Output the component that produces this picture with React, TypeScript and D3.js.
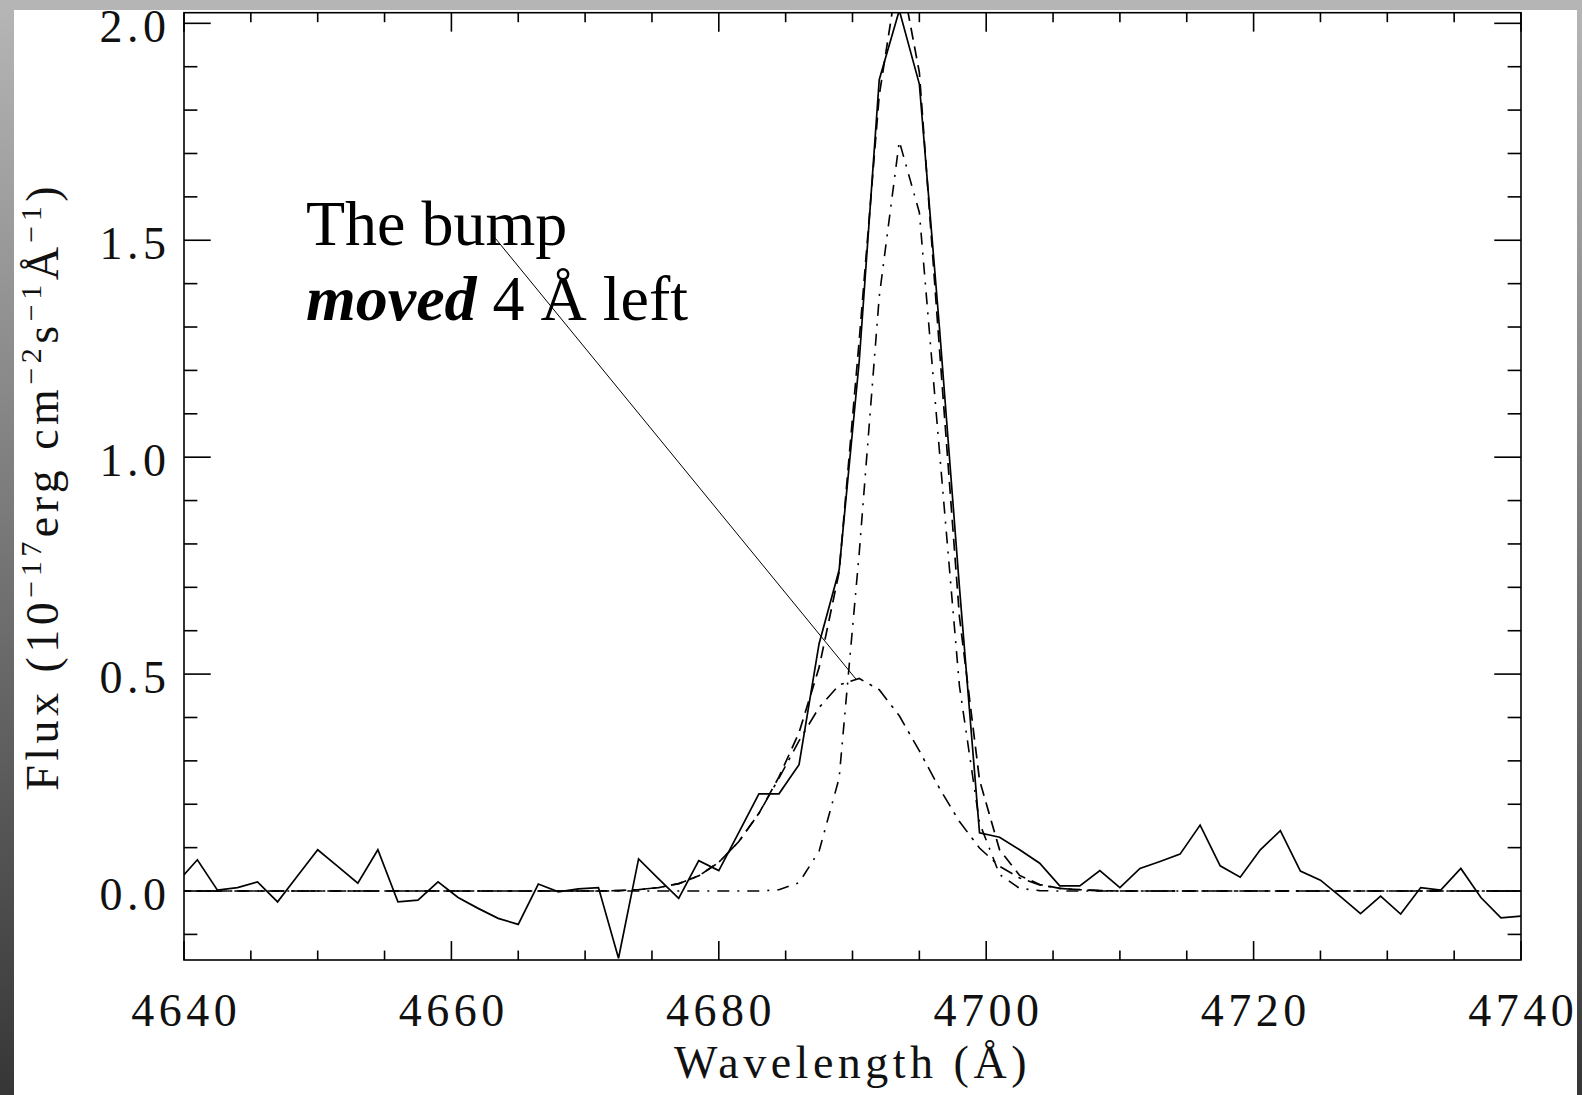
import React from "react";
import * as d3 from "d3";

const WAVELENGTHS = [
  4639.5, 4641.0, 4642.5, 4644.0, 4645.5, 4647.0, 4648.5, 4650.0, 4651.5, 4653.0,
  4654.5, 4656.0, 4657.5, 4659.0, 4660.5, 4662.0, 4663.5, 4665.0, 4666.5, 4668.0,
  4669.5, 4671.0, 4672.5, 4674.0, 4675.5, 4677.0, 4678.5, 4680.0, 4681.5, 4683.0,
  4684.5, 4686.0, 4687.5, 4689.0, 4690.5, 4692.0, 4693.5, 4695.0, 4696.5, 4698.0,
  4699.5, 4701.0, 4702.5, 4704.0, 4705.5, 4707.0, 4708.5, 4710.0, 4711.5, 4713.0,
  4714.5, 4716.0, 4717.5, 4719.0, 4720.5, 4722.0, 4723.5, 4725.0, 4726.5, 4728.0,
  4729.5, 4731.0, 4732.5, 4734.0, 4735.5, 4737.0, 4738.5, 4740.0,
];

const OBSERVED = [
  0.020, 0.072, 0.002, 0.008, 0.021, -0.025, 0.035, 0.095, 0.057, 0.018,
  0.095, -0.025, -0.021, 0.021, -0.015, -0.040, -0.063, -0.077, 0.016, -0.002,
  0.005, 0.008, -0.155, 0.074, 0.028, -0.017, 0.070, 0.047, 0.135, 0.224,
  0.224, 0.291, 0.570, 0.740, 1.220, 1.870, 2.030, 1.860, 1.300, 0.700,
  0.134, 0.124, 0.095, 0.064, 0.012, 0.012, 0.047, 0.008, 0.052, 0.068,
  0.085, 0.152, 0.058, 0.032, 0.095, 0.139, 0.046, 0.025, -0.013, -0.052,
  -0.012, -0.053, 0.008, 0.002, 0.052, -0.015, -0.062, -0.058,
];

const NARROW = [
  0, 0, 0, 0, 0, 0, 0, 0, 0, 0,
  0, 0, 0, 0, 0, 0, 0, 0, 0, 0,
  0, 0, 0, 0, 0, 0, 0, 0, 0, 0.000,
  0.003, 0.019, 0.092, 0.260, 0.778, 1.370, 1.728, 1.564, 1.015, 0.472,
  0.157, 0.038, 0.006, 0.001, 0, 0, 0, 0, 0, 0,
  0, 0, 0, 0, 0, 0, 0, 0, 0, 0,
  0, 0, 0, 0, 0, 0, 0, 0,
];

const BROAD = [
  0, 0, 0, 0, 0, 0, 0, 0, 0, 0,
  0, 0, 0, 0, 0, 0, 0, 0, 0, 0,
  0.000, 0.000, 0.001, 0.003, 0.008, 0.017, 0.035, 0.066, 0.114, 0.179,
  0.260, 0.346, 0.423, 0.475, 0.490, 0.464, 0.404, 0.323, 0.237, 0.160,
  0.099, 0.057, 0.030, 0.014, 0.006, 0.003, 0.001, 0.000, 0, 0,
  0, 0, 0, 0, 0, 0, 0, 0, 0, 0,
  0, 0, 0, 0, 0, 0, 0, 0,
];

const TOTAL = [
  0, 0, 0, 0, 0, 0, 0, 0, 0, 0,
  0, 0, 0, 0, 0, 0, 0, 0, 0, 0,
  0.000, 0.000, 0.001, 0.003, 0.008, 0.017, 0.035, 0.066, 0.114, 0.179,
  0.263, 0.365, 0.515, 0.735, 1.268, 1.834, 2.132, 1.887, 1.252, 0.632,
  0.256, 0.095, 0.036, 0.015, 0.006, 0.003, 0.001, 0.000, 0, 0,
  0, 0, 0, 0, 0, 0, 0, 0, 0, 0,
  0, 0, 0, 0, 0, 0, 0, 0,
];

const X_MAJOR_TICKS = [4640, 4660, 4680, 4700, 4720, 4740];
const X_MINOR_TICKS = [
  4645, 4650, 4655, 4665, 4670, 4675, 4685, 4690, 4695, 4705, 4710, 4715, 4725, 4730, 4735,
];
const Y_MAJOR_TICKS = [0.0, 0.5, 1.0, 1.5, 2.0];
const Y_MINOR_TICKS = [-0.1, 0.1, 0.2, 0.3, 0.4, 0.6, 0.7, 0.8, 0.9, 1.1, 1.2, 1.3, 1.4, 1.6, 1.7, 1.8, 1.9];

const ANNOTATION_POINT = { wl: 4690.3, flux: 0.487 };

const W = 1582;
const H = 1095;
const LEFT = 184;
const RIGHT = 1521;
const TOP = 12.7;
const BOTTOM = 960;

export default function App() {
  const x = d3.scaleLinear().domain([4640, 4740]).range([LEFT, RIGHT]);
  const y = d3.scaleLinear().domain([-0.159, 2.0245]).range([BOTTOM, TOP]);

  const mk = (vals: number[]) =>
    d3
      .line<number>()
      .x((_, i) => x(WAVELENGTHS[i]))
      .y((v) => y(v))(vals) || "";

  const plotH = BOTTOM - TOP;
  const plotW = RIGHT - LEFT;
  const xMaj = plotH * 0.02;
  const xMin = xMaj / 2;
  const yMaj = plotW * 0.02;
  const yMin = yMaj / 2;

  const font = "'Liberation Serif', 'Times New Roman', serif";
  const tickFs = 46;
  const ls = 4.5;

  return (
    <svg
      width={W}
      height={H}
      style={{ position: "absolute", left: 0, top: 0 }}
      xmlns="http://www.w3.org/2000/svg"
    >
      <defs>
        <linearGradient id="bg" x1="0" y1="0" x2="0" y2="1">
          <stop offset="0" stopColor="#b6b6b6" />
          <stop offset="1" stopColor="#363636" />
        </linearGradient>
        <clipPath id="plotclip">
          <rect x={LEFT} y={TOP} width={plotW} height={plotH} />
        </clipPath>
      </defs>
      <rect x={0} y={0} width={W} height={H} fill="url(#bg)" />
      <rect x={14} y={10} width={1563} height={H - 10} fill="#ffffff" />

      {/* data */}
      <g clipPath="url(#plotclip)" fill="none" stroke="#000">
        <path d={mk(BROAD)} strokeWidth={1.6} strokeDasharray="14,7,3,7" />
        <path d={mk(NARROW)} strokeWidth={1.6} strokeDasharray="12,8,2,8" />
        <path d={mk(TOTAL)} strokeWidth={1.7} strokeDasharray="12,7" />
        <path d={mk(OBSERVED)} strokeWidth={1.7} />
      </g>

      {/* frame */}
      <rect x={LEFT} y={TOP} width={plotW} height={plotH} fill="none" stroke="#000" strokeWidth={1.6} />

      {/* ticks */}
      <g stroke="#000" strokeWidth={1.6}>
        {X_MAJOR_TICKS.map((t) => (
          <g key={"xM" + t}>
            <line x1={x(t)} x2={x(t)} y1={BOTTOM} y2={BOTTOM - xMaj} />
            <line x1={x(t)} x2={x(t)} y1={TOP} y2={TOP + xMaj} />
          </g>
        ))}
        {X_MINOR_TICKS.map((t) => (
          <g key={"xm" + t}>
            <line x1={x(t)} x2={x(t)} y1={BOTTOM} y2={BOTTOM - xMin} />
            <line x1={x(t)} x2={x(t)} y1={TOP} y2={TOP + xMin} />
          </g>
        ))}
        {Y_MAJOR_TICKS.map((t) => (
          <g key={"yM" + t}>
            <line x1={LEFT} x2={LEFT + yMaj} y1={y(t)} y2={y(t)} />
            <line x1={RIGHT} x2={RIGHT - yMaj} y1={y(t)} y2={y(t)} />
          </g>
        ))}
        {Y_MINOR_TICKS.map((t) => (
          <g key={"ym" + t}>
            <line x1={LEFT} x2={LEFT + yMin} y1={y(t)} y2={y(t)} />
            <line x1={RIGHT} x2={RIGHT - yMin} y1={y(t)} y2={y(t)} />
          </g>
        ))}
      </g>

      {/* tick labels */}
      <g fontFamily={font} fontSize={tickFs} fill="#111" letterSpacing={ls}>
        {X_MAJOR_TICKS.map((t) => (
          <text key={"xl" + t} x={x(t) + ls / 2} y={1026} textAnchor="middle">
            {String(t)}
          </text>
        ))}
        {Y_MAJOR_TICKS.map((t) => (
          <text key={"yl" + t} x={166 + ls} y={y(t) + 18.5} textAnchor="end">
            {d3.format(".1f")(t)}
          </text>
        ))}
      </g>

      {/* axis titles */}
      <text
        x={(LEFT + RIGHT) / 2}
        y={1078}
        textAnchor="middle"
        fontFamily={font}
        fontSize={tickFs}
        letterSpacing={ls}
        fill="#111"
      >
        Wavelength (Å)
      </text>
      <text
        transform={`translate(58,${(TOP + BOTTOM) / 2}) rotate(-90)`}
        textAnchor="middle"
        fontFamily={font}
        fontSize={tickFs}
        letterSpacing={ls}
        fill="#111"
      >
        <tspan>Flux (10</tspan>
        <tspan dy={-17} fontSize={30}>−17</tspan>
        <tspan dy={17}>erg cm</tspan>
        <tspan dy={-17} fontSize={30}>−2</tspan>
        <tspan dy={17}>s</tspan>
        <tspan dy={-17} fontSize={30}>−1</tspan>
        <tspan dy={17}>Å</tspan>
        <tspan dy={-17} fontSize={30}>−1</tspan>
        <tspan dy={17}>)</tspan>
      </text>

      {/* annotation */}
      <line
        x1={491}
        y1={233}
        x2={x(ANNOTATION_POINT.wl)}
        y2={y(ANNOTATION_POINT.flux)}
        stroke="#000"
        strokeWidth={1}
      />
      <text x={306} y={245} fontFamily={font} fontSize={64} fill="#000">
        The bump
      </text>
      <text x={306} y={320} fontFamily={font} fontSize={64} fill="#000">
        <tspan fontWeight="bold" fontStyle="italic">moved</tspan>
        <tspan> 4 Å left</tspan>
      </text>
    </svg>
  );
}
